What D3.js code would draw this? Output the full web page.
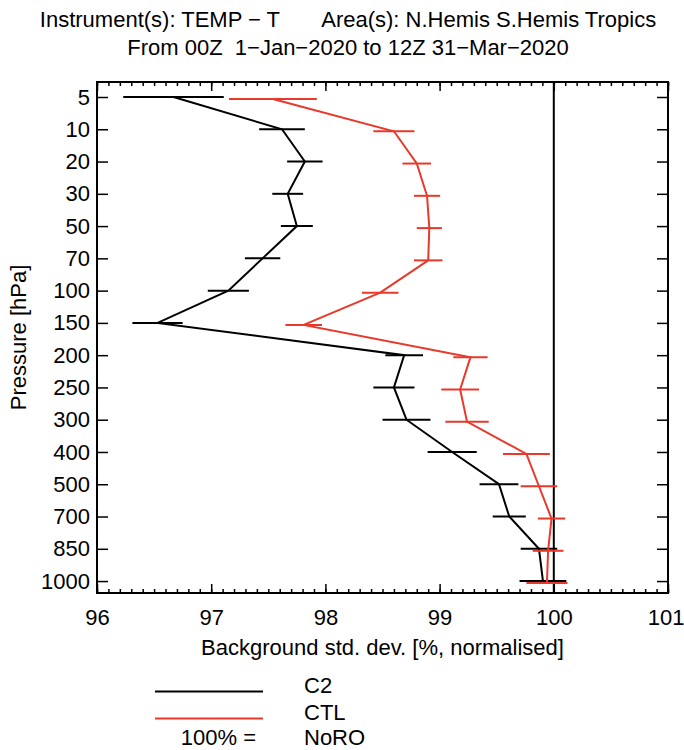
<!DOCTYPE html>
<html>
<head>
<meta charset="utf-8">
<script src="https://cdn.jsdelivr.net/npm/d3@7"></script>
<style>
  body { margin: 0; background: #fff; }
  text { font-family: "Liberation Sans", Arial, sans-serif; fill: #000; }
</style>
</head>
<body>
<div id="chart"></div>
<script>
// ==== Data ====
const levels = ["5", "10", "20", "30", "50", "70", "100", "150", "200", "250", "300", "400", "500", "700", "850", "1000"];
const c2Values = [96.67, 97.62, 97.82, 97.67, 97.75, 97.45, 97.15, 96.53, 98.69, 98.60, 98.71, 99.11, 99.52, 99.61, 99.87, 99.905];
const c2Err = [0.44, 0.20, 0.155, 0.135, 0.14, 0.155, 0.18, 0.22, 0.165, 0.18, 0.21, 0.215, 0.17, 0.145, 0.16, 0.205];
const ctlValues = [97.54, 98.60, 98.80, 98.89, 98.91, 98.90, 98.48, 97.81, 99.27, 99.18, 99.24, 99.76, 99.87, 99.98, 99.95, 99.94];
const ctlErr = [0.385, 0.18, 0.125, 0.115, 0.11, 0.125, 0.16, 0.16, 0.15, 0.165, 0.19, 0.205, 0.16, 0.12, 0.135, 0.18];
const xTicks = [96, 97, 98, 99, 100, 101];
const refValue = 100;

const series = [
    { name: "C2", values: c2Values, err: c2Err, color: "#000000", dy: 0 },
    { name: "CTL", values: ctlValues, err: ctlErr, color: "#e8392b", dy: 2 }
];

// ==== Chart ====
const svg = d3.select("#chart")
              .append("svg")
              .attr("width", 684)
              .attr("height", 750);

const plot = { left: 97, right: 668, top: 82, bottom: 593 };
const fontSize = "22px";

const x = d3.scaleLinear().domain([96, 101]).range([plot.left, plot.right]);
const y = d3.scaleLinear().domain([-0.465, 15.37]).range([plot.top, plot.bottom]);

// titles
svg.append("text")
    .attr("x", 348).attr("y", 27)
    .attr("text-anchor", "middle")
    .style("font-size", fontSize)
    .style("white-space", "pre")
    .text("Instrument(s): TEMP \u2212 T       Area(s): N.Hemis S.Hemis Tropics");

svg.append("text")
    .attr("x", 348).attr("y", 55)
    .attr("text-anchor", "middle")
    .style("font-size", fontSize)
    .style("white-space", "pre")
    .text("From 00Z  1\u2212Jan\u22122020 to 12Z 31\u2212Mar\u22122020");

// axes (ticks point inward)
const minorTicks = d3.range(960, 1011).map(d => d / 10);

svg.append("g")
    .attr("transform", `translate(0,${plot.bottom})`)
    .call(d3.axisBottom(x).tickValues(minorTicks).tickSize(-4).tickFormat(""));
svg.append("g")
    .attr("transform", `translate(0,${plot.top})`)
    .call(d3.axisTop(x).tickValues(minorTicks).tickSize(-4).tickFormat(""));

svg.append("g")
    .attr("class", "xaxis")
    .attr("transform", `translate(0,${plot.bottom})`)
    .call(d3.axisBottom(x).tickValues(xTicks).tickSize(-9).tickPadding(16).tickFormat(d3.format("d")));
svg.append("g")
    .attr("transform", `translate(0,${plot.top})`)
    .call(d3.axisTop(x).tickValues(xTicks).tickSize(-9).tickFormat(""));

svg.append("g")
    .attr("class", "yaxis")
    .attr("transform", `translate(${plot.left},0)`)
    .call(d3.axisLeft(y).tickValues(d3.range(levels.length)).tickSize(-11).tickPadding(7).tickFormat(i => levels[i]));
svg.append("g")
    .attr("transform", `translate(${plot.right},0)`)
    .call(d3.axisRight(y).tickValues(d3.range(levels.length)).tickSize(-11).tickFormat(""));

svg.selectAll(".domain").remove();
svg.selectAll(".tick line").attr("stroke", "#000").attr("stroke-width", 1.5);
svg.selectAll(".xaxis text, .yaxis text")
    .style("font-size", fontSize)
    .style("font-family", "'Liberation Sans', Arial, sans-serif");

// last x label sits at the right edge of the page, keep it inside
svg.selectAll(".xaxis .tick text")
    .filter(d => d === 101)
    .attr("text-anchor", "end")
    .attr("x", 684 - plot.right);

// frame
svg.append("rect")
    .attr("x", plot.left).attr("y", plot.top)
    .attr("width", plot.right - plot.left).attr("height", plot.bottom - plot.top)
    .attr("fill", "none")
    .attr("stroke", "#000")
    .attr("stroke-width", 2);

// axis titles
svg.append("text")
    .attr("x", (plot.left + plot.right) / 2).attr("y", 655)
    .attr("text-anchor", "middle")
    .style("font-size", fontSize)
    .text("Background std. dev. [%, normalised]");

svg.append("text")
    .attr("transform", `translate(26,${(plot.top + plot.bottom) / 2}) rotate(-90)`)
    .attr("text-anchor", "middle")
    .style("font-size", fontSize)
    .text("Pressure [hPa]");

// 100% reference line
svg.append("line")
    .attr("x1", x(refValue)).attr("x2", x(refValue))
    .attr("y1", plot.top).attr("y2", plot.bottom)
    .attr("stroke", "#000")
    .attr("stroke-width", 2);

// series lines + error bars
series.forEach(s => {
    const line = d3.line()
        .x((d, i) => x(d))
        .y((d, i) => y(i) + s.dy);

    svg.append("path")
        .datum(s.values)
        .attr("fill", "none")
        .attr("stroke", s.color)
        .attr("stroke-width", 2)
        .attr("d", line);

    svg.selectAll(null)
        .data(s.values)
        .enter()
        .append("line")
        .attr("x1", (d, i) => x(d - s.err[i]))
        .attr("x2", (d, i) => x(d + s.err[i]))
        .attr("y1", (d, i) => y(i) + s.dy)
        .attr("y2", (d, i) => y(i) + s.dy)
        .attr("stroke", s.color)
        .attr("stroke-width", 2);
});

// ==== Legend ====
const legend = svg.append("g");

series.forEach((s, i) => {
    const ly = 691.5 + i * 27;
    legend.append("line")
        .attr("x1", 155).attr("x2", 263)
        .attr("y1", ly).attr("y2", ly)
        .attr("stroke", s.color)
        .attr("stroke-width", 2);
    legend.append("text")
        .attr("x", 304).attr("y", ly + 1)
        .style("font-size", fontSize)
        .text(s.name);
});

legend.append("text")
    .attr("x", 256).attr("y", 745)
    .attr("text-anchor", "end")
    .style("font-size", fontSize)
    .text("100% =");
legend.append("text")
    .attr("x", 304).attr("y", 745)
    .style("font-size", fontSize)
    .text("NoRO");
</script>
</body>
</html>
